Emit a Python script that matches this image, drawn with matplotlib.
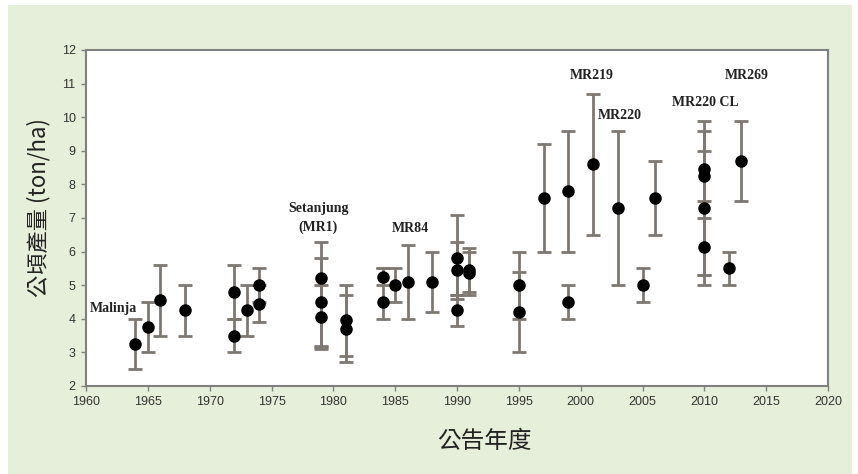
import matplotlib.pyplot as plt
from matplotlib.patches import Rectangle

# release year, yield (ton/ha), lower and upper end of the error bar
years = [1964, 1965, 1966, 1968, 1972, 1972, 1973, 1974, 1974,
         1979, 1979, 1979, 1981, 1981, 1984, 1984, 1985, 1986, 1988,
         1990, 1990, 1990, 1991, 1991, 1995, 1995, 1997, 1999, 1999,
         2001, 2003, 2005, 2006, 2010, 2010, 2010, 2010, 2012, 2013]
yields = [3.25, 3.75, 4.55, 4.25, 4.8, 3.5, 4.25, 5.0, 4.45,
          5.2, 4.5, 4.05, 3.95, 3.7, 5.25, 4.5, 5.0, 5.1, 5.1,
          5.8, 5.45, 4.25, 5.45, 5.35, 5.0, 4.2, 7.6, 7.8, 4.5,
          8.6, 7.3, 5.0, 7.6, 8.45, 8.25, 7.3, 6.15, 5.5, 8.7]
err_low = [2.5, 3.0, 3.5, 3.5, 4.0, 3.0, 3.5, 4.5, 3.9,
           3.2, 3.1, 3.15, 2.9, 2.7, 5.0, 4.0, 4.5, 4.0, 4.2,
           4.6, 4.7, 3.8, 4.8, 4.7, 4.0, 3.0, 6.0, 6.0, 4.0,
           6.5, 5.0, 4.5, 6.5, 7.0, 5.3, 5.0, 5.3, 5.0, 7.5]
err_high = [4.0, 4.5, 5.6, 5.0, 5.6, 4.0, 5.0, 5.5, 5.0,
            6.3, 5.8, 5.0, 5.0, 4.7, 5.5, 5.5, 5.5, 6.2, 6.0,
            7.1, 6.3, 4.7, 6.1, 6.0, 6.0, 5.4, 9.2, 9.6, 5.0,
            10.7, 9.6, 5.5, 8.7, 9.9, 9.6, 9.0, 7.5, 6.0, 9.9]

variety_names = ["Malinja", "Setanjung\n(MR1)", "MR84", "MR219", "MR220", "MR220 CL", "MR269"]
name_x = [1960.3, 1978.8, 1986.2, 2000.9, 2003.2, 2010.1, 2013.4]
name_y = [4.32, 7.0, 6.70, 11.23, 10.04, 10.45, 11.23]

fig = plt.figure(figsize=(8.58, 4.74), dpi=100)
bg = Rectangle((8 / 858, 0), 844 / 858, 469 / 474, transform=fig.transFigure,
               facecolor="#e6efd9", edgecolor="none", zorder=-10)
fig.add_artist(bg)
ax = fig.add_axes([86 / 858, 88 / 474, 742 / 858, 336 / 474])
ax.set_facecolor("white")

lower = [y - lo for y, lo in zip(yields, err_low)]
upper = [hi - y for y, hi in zip(yields, err_high)]
ax.errorbar(years, yields, yerr=[lower, upper], fmt="o", color="black", markersize=8,
            ecolor="#7d7872", elinewidth=2, capsize=5, capthick=2)

for name, x, y in zip(variety_names, name_x, name_y):
    ax.text(x, y, name, ha="left" if name == "Malinja" else "center", va="center",
            fontsize=10, fontweight="bold", family="Liberation Serif", color="#222222",
            linespacing=1.5)

ax.set_xlim(1960, 2020)
ax.set_ylim(2, 12)
ax.set_xticks(range(1960, 2021, 5))
ax.set_yticks(range(2, 13))
for side in ax.spines.values():
    side.set_color("#808080")
    side.set_linewidth(1.5)
ax.tick_params(direction="out", length=3.5, width=1, color="#808080", labelsize=9,
               labelcolor="#333333", pad=4)
for lab in ax.get_xticklabels() + ax.get_yticklabels():
    lab.set_family("Liberation Sans")

ax.set_xlabel("公告年度", family=["Noto Sans CJK TC", "DejaVu Sans"], fontsize=17, color="#222222")
ax.xaxis.set_label_coords((484 - 86) / 742, -44 / 336)
ax.set_ylabel("公頃產量 (ton/ha)", family=["Noto Sans CJK TC", "DejaVu Sans"], fontsize=16,
              color="#222222")
ax.yaxis.set_label_coords(-36 / 742, 0.53)

fig.savefig("out.png", dpi=100)
